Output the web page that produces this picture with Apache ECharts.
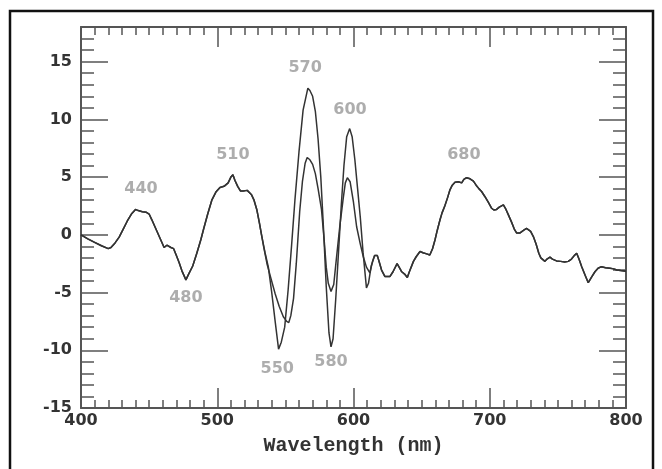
<!DOCTYPE html>
<html>
<head>
<meta charset="utf-8">
<script src="https://cdn.jsdelivr.net/npm/echarts@6/dist/echarts.min.js"></script>
<style>
  html, body { margin: 0; padding: 0; background: #fff; }
  #main { width: 662px; height: 469px; }
</style>
</head>
<body>
<div id="main"></div>
<script>
// shared part of both curves, 400 - 532 nm
var leftNm = [400, 405, 410, 415, 420, 422, 425, 428, 431, 434, 437, 440, 442, 445, 448, 450, 452, 455, 458, 461, 463, 466, 468, 470, 472, 474, 477, 479, 482, 485, 488, 490, 493, 496, 499, 502, 505, 508, 510, 511.5, 513, 515, 517, 519, 522, 525, 527, 529, 531, 532.5];
var leftVal = [0, -0.35, -0.65, -0.95, -1.2, -1.1, -0.7, -0.2, 0.5, 1.2, 1.8, 2.2, 2.1, 2.0, 1.95, 1.8, 1.3, 0.5, -0.3, -1.1, -0.9, -1.1, -1.2, -1.8, -2.4, -3.1, -3.9, -3.4, -2.7, -1.6, -0.4, 0.5, 1.8, 3.0, 3.7, 4.1, 4.2, 4.5, 5.0, 5.2, 4.7, 4.2, 3.8, 3.8, 3.85, 3.5, 3.0, 2.2, 1.0, 0.0];

// curve with the deep dips (550 / 580) and tall peaks (570 / 600)
var splitANm = [535, 537.5, 540, 542.5, 545, 547, 549.5, 552, 554.5, 557, 560, 563, 566.5, 568, 570, 572, 574, 576, 578, 580, 582, 583.5, 585, 587, 589, 591, 593, 595, 597.2, 599, 601, 603, 605, 607, 609.5, 611, 613, 615.5];
var splitAVal = [-1.5, -2.8, -5.0, -7.5, -9.9, -9.3, -8.0, -4.8, -1.0, 3.0, 7.2, 10.8, 12.7, 12.5, 12.0, 10.7, 8.3, 5.0, 0.5, -4.5, -8.5, -9.7, -9.0, -5.5, -1.5, 2.5, 6.0, 8.5, 9.2, 8.5, 6.5, 4.0, 1.5, -1.5, -4.6, -4.2, -2.7, -1.8];

// curve with the shallower dips and lower peaks
var splitBNm = [534, 536.5, 539, 542.5, 545.5, 548.5, 551, 552.5, 554, 556, 558, 560.5, 562.5, 564.5, 566, 568, 570, 572, 574, 576.5, 578.5, 580, 581.5, 583.5, 585.5, 587.5, 590, 592.5, 594, 595.5, 597.5, 600, 602.3, 605, 607.2, 609.5, 612, 614, 615.5];
var splitBVal = [-1.0, -2.5, -3.6, -5.1, -6.2, -7.1, -7.5, -7.6, -7.0, -5.5, -2.5, 2.0, 4.6, 6.2, 6.7, 6.5, 6.1, 5.3, 4.0, 2.2, -0.5, -2.8, -4.2, -4.9, -4.3, -2.0, 0.8, 3.2, 4.5, 4.95, 4.6, 2.8, 0.7, -0.8, -1.9, -2.8, -3.3, -2.3, -1.8];

// shared part of both curves, 617 - 800 nm
var rightNm = [617.5, 619, 620.6, 623, 626.8, 629, 632, 634, 635.4, 637.5, 639.5, 641, 644, 646, 648.8, 651, 653.7, 656, 658, 659.8, 661.5, 663.5, 665, 667, 669, 670.8, 672.5, 674.5, 677, 679.4, 681, 683, 685.5, 688, 690, 692, 694, 696.5, 699, 701.4, 703, 705, 707, 710, 711.5, 713.6, 716, 718, 719.8, 722, 725, 727, 728.3, 730, 732, 734, 736, 737.5, 740.5, 742, 744.2, 746, 749, 752, 755, 757.6, 760, 762, 763.8, 765.5, 767.5, 770, 772.3, 774.5, 777.2, 779.5, 782, 785, 788.3, 791, 793.3, 796, 800];
var rightVal = [-1.8, -2.4, -3.05, -3.6, -3.6, -3.2, -2.5, -2.9, -3.2, -3.4, -3.7, -3.2, -2.3, -1.9, -1.45, -1.55, -1.65, -1.75, -1.2, -0.45, 0.4, 1.3, 1.9, 2.5, 3.2, 3.9, 4.3, 4.55, 4.6, 4.5, 4.8, 4.95, 4.85, 4.65, 4.3, 4.0, 3.75, 3.3, 2.8, 2.3, 2.15, 2.2, 2.4, 2.6, 2.3, 1.75, 1.1, 0.5, 0.15, 0.15, 0.4, 0.55, 0.6, 0.3, -0.15, -0.8, -1.6, -2.0, -2.3, -2.1, -1.94, -2.1, -2.26, -2.3, -2.35, -2.3, -2.1, -1.8, -1.6, -2.1, -2.76, -3.5, -4.15, -3.7, -3.2, -2.9, -2.76, -2.85, -2.9, -2.95, -3.05, -3.1, -3.15];

// peak annotations
var peakNames = ['440', '480', '510', '550', '570', '580', '600', '680'];
var peakNm = [444, 477, 511.5, 544, 564.5, 583.5, 597.4, 681];
var peakLevel = [4.0, -5.5, 6.9, -11.6, 14.5, -11.0, 10.8, 6.9];

var xTicks = [400, 500, 600, 700, 800];
var yTicks = [-15, -10, -5, 0, 5, 10, 15];

function pairs(nm, val) {
    return nm.map(function (x, i) { return [x, val[i]]; });
}
var curveA = pairs(leftNm, leftVal).concat(pairs(splitANm, splitAVal), pairs(rightNm, rightVal));
var curveB = pairs(leftNm, leftVal).concat(pairs(splitBNm, splitBVal), pairs(rightNm, rightVal));

var myChart = echarts.init(document.getElementById('main'));

var axisColor = '#555';
var labelFont = { fontFamily: 'DejaVu Sans', fontWeight: 'bold', fontSize: 16, color: '#333' };

function xAxisDef(pos, showLabel) {
    return {
        type: 'value', position: pos,
        min: xTicks[0], max: xTicks[xTicks.length - 1], interval: 100,
        axisLine: { show: true, onZero: false, lineStyle: { color: axisColor, width: 2 } },
        axisTick: { show: true, inside: true, length: 20, lineStyle: { color: axisColor, width: 1.5 } },
        minorTick: { show: true, splitNumber: 10, length: 8, lineStyle: { color: axisColor, width: 1.5 } },
        axisLabel: Object.assign({ show: showLabel, margin: 5 }, labelFont),
        splitLine: { show: false },
        name: showLabel ? 'Wavelength (nm)' : '',
        nameLocation: 'middle', nameGap: 28,
        nameTextStyle: { fontFamily: 'Liberation Mono', fontWeight: 'bold', fontSize: 20, color: '#333' }
    };
}

function yAxisDef(pos, major, showLabel) {
    return {
        type: 'value', position: pos,
        min: yTicks[0], max: 18, interval: major ? 5 : 1,
        axisLine: { show: major, onZero: false, lineStyle: { color: axisColor, width: 2 } },
        axisTick: { show: true, inside: true, length: major ? 27 : 13, lineStyle: { color: axisColor, width: 1.5 } },
        axisLabel: Object.assign({
            show: showLabel, margin: 9, showMaxLabel: false,
            formatter: function (v) { return v === 18 ? '' : String(v); }
        }, labelFont),
        splitLine: { show: false }
    };
}

var option = {
    animation: false,
    backgroundColor: '#fff',
    grid: { left: 81, right: 36, top: 27, bottom: 61, containLabel: false, outerBoundsMode: 'none' },
    xAxis: [xAxisDef('bottom', true), xAxisDef('top', false)],
    yAxis: [yAxisDef('left', true, true), yAxisDef('left', false, false), yAxisDef('right', true, false), yAxisDef('right', false, false)],
    graphic: [{
        type: 'rect', silent: true,
        shape: { x: 10, y: 11, width: 643, height: 490 },
        style: { fill: null, stroke: '#111', lineWidth: 2.5 }
    }],
    series: [
        {
            type: 'line', data: curveA, showSymbol: false, smooth: false,
            lineStyle: { color: '#333', width: 1.5 }
        },
        {
            type: 'line', data: curveB, showSymbol: false, smooth: false,
            lineStyle: { color: '#333', width: 1.5 }
        },
        {
            type: 'scatter', symbolSize: 0,
            data: peakNames.map(function (n, i) { return { name: n, value: [peakNm[i], peakLevel[i]] }; }),
            label: {
                show: true, position: 'inside', formatter: '{b}',
                fontFamily: 'DejaVu Sans', fontWeight: 'bold', fontSize: 16, color: '#999'
            }
        }
    ]
};

myChart.setOption(option);
</script>
</body>
</html>
